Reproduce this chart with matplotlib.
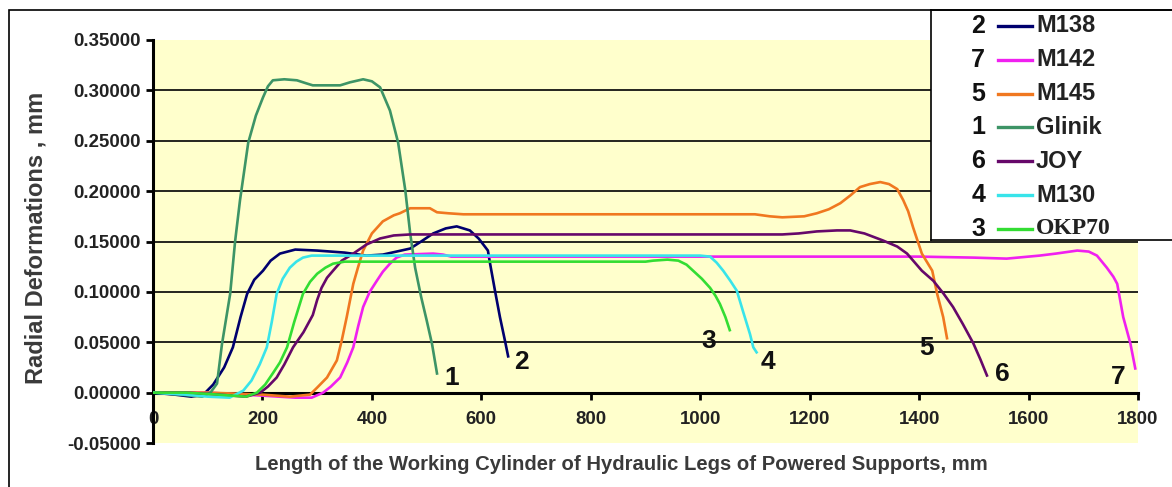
import matplotlib
matplotlib.use("Agg")
import matplotlib.pyplot as plt
from matplotlib.lines import Line2D
from matplotlib.patches import Rectangle

# ---------------- data ----------------
series_names = ["M138", "M142", "M145", "Glinik", "JOY", "M130", "OKP70"]
series_numbers = ["2", "7", "5", "1", "6", "4", "3"]
series_colors = ["#00006e", "#f020f0", "#f07820", "#3d9466", "#66086a", "#38e4ea", "#33dd33"]

M138_x = [0, 40, 70, 92, 110, 130, 146, 160, 172, 185, 201, 215, 232, 260, 300, 350, 390, 420,
          445, 470, 490, 512, 535, 555, 579, 595, 605, 612, 616, 625, 634, 643, 649]
M138_y = [0, -0.002, -0.004, -0.002, 0.008, 0.025, 0.045, 0.075, 0.098, 0.112, 0.121, 0.131,
          0.138, 0.142, 0.141, 0.139, 0.136, 0.137, 0.140, 0.143, 0.150, 0.158, 0.163, 0.165,
          0.161, 0.153, 0.146, 0.141, 0.128, 0.101, 0.075, 0.052, 0.036]

M142_x = [0, 100, 200, 260, 290, 311, 325, 342, 355, 366, 375, 384, 396, 409, 420, 433, 445,
          460, 512, 530, 545, 600, 800, 1000, 1200, 1400, 1500, 1560, 1620, 1650, 1689, 1710,
          1725, 1743, 1755, 1762, 1773, 1786, 1795]
M142_y = [0, 0, -0.003, -0.005, -0.005, 0.0, 0.006, 0.015, 0.030, 0.045, 0.066, 0.085, 0.100,
          0.111, 0.120, 0.128, 0.134, 0.137, 0.138, 0.137, 0.135, 0.135, 0.135, 0.135, 0.135,
          0.135, 0.134, 0.133, 0.136, 0.138, 0.141, 0.140, 0.136, 0.124, 0.115, 0.108, 0.075,
          0.049, 0.024]

M145_x = [0, 100, 200, 250, 287, 300, 318, 336, 345, 354, 366, 375, 384, 400, 420, 440, 451,
          470, 506, 519, 540, 567, 700, 900, 1100, 1127, 1150, 1190, 1213, 1235, 1256, 1275,
          1292, 1310, 1329, 1345, 1360, 1371, 1380, 1389, 1405, 1424, 1433, 1444, 1451]
M145_y = [0, 0, -0.002, -0.004, -0.002, 0.005, 0.015, 0.032, 0.052, 0.075, 0.108, 0.125, 0.141,
          0.158, 0.170, 0.176, 0.178, 0.183, 0.183, 0.179, 0.178, 0.177, 0.177, 0.177, 0.177,
          0.175, 0.174, 0.175, 0.178, 0.182, 0.188, 0.196, 0.204, 0.207, 0.209, 0.207, 0.202,
          0.191, 0.180, 0.164, 0.138, 0.121, 0.098, 0.075, 0.054]

Glinik_x = [0, 50, 90, 105, 117, 126, 141, 150, 159, 174, 188, 201, 210, 219, 240, 263, 280,
            292, 342, 360, 384, 400, 415, 433, 448, 461, 470, 479, 490, 500, 510, 519]
Glinik_y = [0, -0.002, -0.004, 0.0, 0.009, 0.048, 0.098, 0.150, 0.191, 0.248, 0.275, 0.293,
            0.304, 0.310, 0.311, 0.310, 0.307, 0.305, 0.305, 0.308, 0.311, 0.309, 0.303, 0.280,
            0.248, 0.201, 0.158, 0.124, 0.095, 0.072, 0.048, 0.019]

JOY_x = [0, 60, 120, 170, 196, 210, 226, 240, 256, 275, 292, 300, 308, 318, 329, 345, 366, 390,
         415, 440, 470, 600, 800, 1000, 1150, 1180, 1213, 1250, 1274, 1300, 1334, 1360, 1378,
         1405, 1426, 1445, 1462, 1480, 1499, 1512, 1524]
JOY_y = [0, 0, -0.002, -0.004, 0.0, 0.006, 0.015, 0.028, 0.045, 0.060, 0.077, 0.092, 0.104,
         0.114, 0.121, 0.131, 0.138, 0.147, 0.153, 0.156, 0.157, 0.157, 0.157, 0.157, 0.157,
         0.158, 0.160, 0.161, 0.161, 0.158, 0.151, 0.145, 0.138, 0.121, 0.111, 0.098, 0.085,
         0.068, 0.049, 0.033, 0.017]

M130_x = [0, 60, 100, 140, 165, 180, 195, 208, 217, 226, 237, 250, 262, 274, 290, 320, 500,
          700, 900, 1000, 1018, 1030, 1042, 1055, 1067, 1078, 1091, 1097, 1103]
M130_y = [0, -0.002, -0.004, -0.005, 0.002, 0.012, 0.028, 0.045, 0.070, 0.098, 0.113, 0.124,
          0.130, 0.134, 0.136, 0.136, 0.136, 0.136, 0.136, 0.136, 0.135, 0.129, 0.121, 0.111,
          0.101, 0.081, 0.058, 0.045, 0.040]

OKP70_x = [0, 60, 120, 170, 190, 205, 220, 232, 245, 258, 274, 287, 300, 315, 329, 350, 380,
           500, 700, 900, 914, 940, 960, 975, 987, 1003, 1018, 1028, 1036, 1046, 1054]
OKP70_y = [0, 0, -0.002, -0.004, 0.0, 0.008, 0.020, 0.030, 0.045, 0.070, 0.098, 0.110, 0.118,
           0.124, 0.128, 0.130, 0.130, 0.130, 0.130, 0.130, 0.131, 0.132, 0.131, 0.127, 0.121,
           0.113, 0.104, 0.096, 0.088, 0.075, 0.062]

series_x = [M138_x, M142_x, M145_x, Glinik_x, JOY_x, M130_x, OKP70_x]
series_y = [M138_y, M142_y, M145_y, Glinik_y, JOY_y, M130_y, OKP70_y]

# curve-end number labels (x, y in data units)
end_labels = ["1", "2", "3", "4", "5", "6", "7"]
end_label_x = [546, 674, 1016, 1124, 1413, 1552, 1763]
end_label_y = [0.015, 0.030, 0.051, 0.030, 0.044, 0.018, 0.016]

y_ticks = [-0.05, 0.0, 0.05, 0.10, 0.15, 0.20, 0.25, 0.30, 0.35]
x_ticks = [0, 200, 400, 600, 800, 1000, 1200, 1400, 1600, 1800]

x_label = "Length of the Working Cylinder of Hydraulic Legs of Powered Supports, mm"
y_label = "Radial Deformations , mm"

# ---------------- figure ----------------
plt.rcParams['font.family'] = ['Liberation Sans', 'DejaVu Sans']
W, H = 1172, 487
fig = plt.figure(figsize=(W / 100, H / 100), dpi=100)

# outer frame
fig.patches.append(Rectangle((9 / W, -0.1), 1.2, 1 - 10 / H + 0.1, transform=fig.transFigure,
                             fill=False, edgecolor="black", linewidth=1.2, zorder=0))

ax = fig.add_axes([153 / W, 1 - 443 / H, (1138 - 153) / W, (443 - 40) / H])
ax.set_facecolor("#ffffcc")

for s in ["top", "right"]:
    ax.spines[s].set_visible(False)
ax.spines["left"].set_linewidth(2.2)
ax.spines["bottom"].set_position(("data", 0))
ax.spines["bottom"].set_linewidth(2.2)
ax.spines["bottom"].set_zorder(2)

ax.set_xlim(0, 1800)
ax.set_ylim(-0.05, 0.35)

for xs, ys, c in zip(series_x, series_y, series_colors):
    ax.plot(xs, ys, color=c, linewidth=1.9, solid_joinstyle="round", zorder=3)

for t, xx, yy in zip(end_labels, end_label_x, end_label_y):
    ax.text(xx, yy, t, fontsize=19, fontweight="bold", color="#111111",
            ha="center", va="center", zorder=4)

ax.set_yticks(y_ticks)
ax.set_yticklabels([f"{v:.5f}" for v in y_ticks], fontsize=13.4, fontweight="bold", color="#222222")
ax.set_xticks(x_ticks)
ax.set_xticklabels([str(v) for v in x_ticks], fontsize=13.4, fontweight="bold", color="#222222")

ax.yaxis.grid(True, color="black", linewidth=1.2)
gl = ax.get_ygridlines()
gl[0].set_visible(False)
gl[-1].set_visible(False)
ax.set_axisbelow(True)

ax.tick_params(axis="y", length=5, width=2, pad=4)
ax.tick_params(axis="x", length=5, width=2, pad=8, direction="out")

fig.text(621 / W, 1 - 465 / H, x_label, fontsize=14.6, fontweight="bold", color="#3a3a3a",
         ha="center", va="center")
fig.text(36 / W, 1 - 238 / H, y_label, fontsize=17, fontweight="bold", color="#3a3a3a",
         ha="center", va="center", rotation=90)

# legend box
lax = fig.add_axes([931 / W, 1 - 240 / H, 0.5, (240 - 10) / H])
lax.set_xlim(931, 931 + 0.5 * W)
lax.set_ylim(240, 10)
lax.set_facecolor("white")
for s in lax.spines.values():
    s.set_linewidth(1.2)
lax.set_xticks([])
lax.set_yticks([])
for i, (num, name, c) in enumerate(zip(series_numbers, series_names, series_colors)):
    ry = 26 + i * 33.8
    lax.text(985, ry, num, fontsize=18, fontweight="bold", ha="right", va="center", color="#111111")
    lax.add_line(Line2D([998, 1032], [ry, ry], color=c, linewidth=2.4))
    fam = ["Liberation Serif", "DejaVu Serif"] if name == "OKP70" else ["Liberation Sans", "DejaVu Sans"]
    lax.text(1036, ry, name, fontsize=17, fontweight="bold", ha="left", va="center",
             color="#222222", family=fam)

fig.savefig("out.png", dpi=100)
